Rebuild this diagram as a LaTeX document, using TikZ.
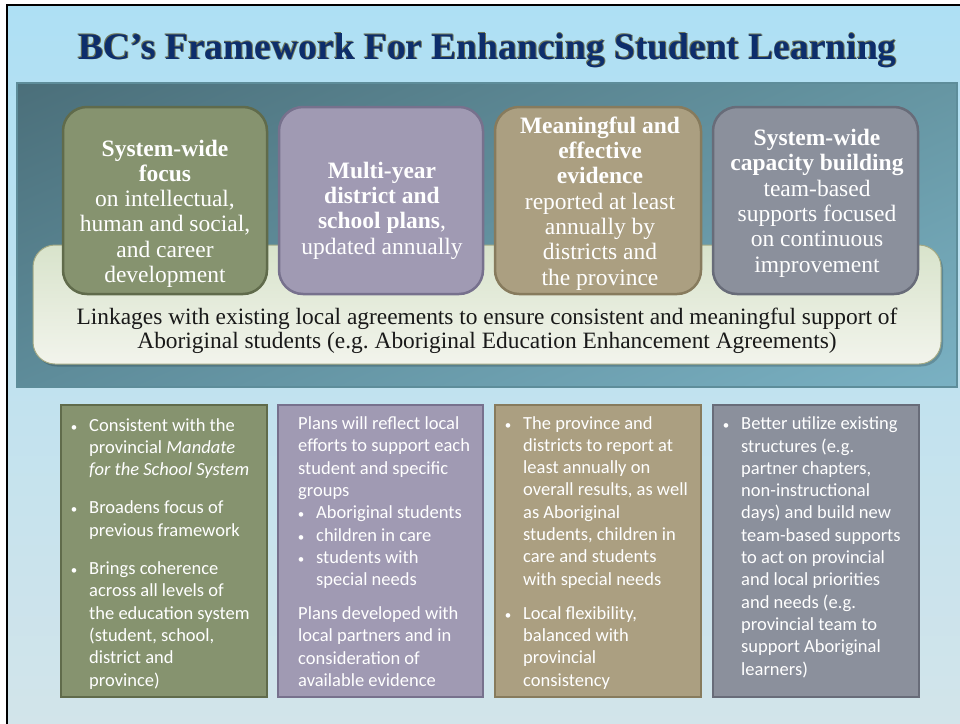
\documentclass[tikz,border=0pt]{standalone}
\usepackage{fontspec}
\usepackage{graphicx}
\usetikzlibrary{shadings}
\setmainfont{Liberation Serif}
\newfontfamily\carl{Carlito}
\frenchspacing
\definecolor{bgtop}{HTML}{AEE0F4}
\definecolor{bgbot}{HTML}{D2E4EA}
\definecolor{tealUL}{HTML}{4B6F7A}
\definecolor{tealUR}{HTML}{6696A3}
\definecolor{tealLL}{HTML}{5E8C9A}
\definecolor{tealLR}{HTML}{7AB1C3}
\definecolor{tealline}{HTML}{5E8D9A}
\definecolor{creamtop}{HTML}{D8E3CB}
\definecolor{creambot}{HTML}{F2F4EC}
\definecolor{creamline}{HTML}{A3A984}
\definecolor{gfill}{HTML}{86936F}
\definecolor{gline}{HTML}{606B4B}
\definecolor{pfill}{HTML}{A09AB3}
\definecolor{pline}{HTML}{77718D}
\definecolor{tfill}{HTML}{AB9F81}
\definecolor{tline}{HTML}{877B5D}
\definecolor{yfill}{HTML}{8B909C}
\definecolor{yline}{HTML}{686C79}
\definecolor{navy}{HTML}{0D2E6C}
\definecolor{olive}{HTML}{6F7658}
\newcommand\mybul{\llap{\makebox[18.3pt][l]{\scalebox{0.7}{•}}}}
\begin{document}
\begin{tikzpicture}[x=1pt,y=-1pt,
  panel/.style={inner sep=0pt, outer sep=0pt},
  topbox/.style={panel, rounded corners=24pt, line width=2.5pt, minimum height=187pt},
  botbox/.style={panel, line width=2pt, minimum height=292pt},
  toptext/.style={inner sep=0pt, text=white, align=center, anchor=base, font=\fontsize{23.5}{25.3}\selectfont},
  bottext/.style={inner sep=0pt, text=white, align=left, anchor=base west, font=\carl\fontsize{18.5}{22.3}\selectfont},
  titletext/.style={inner sep=0pt, anchor=base, font=\fontsize{37.5}{40}\selectfont\bfseries}
]
\useasboundingbox (0,0) rectangle (960,723);
\fill[white] (0,0) rectangle (960,723);
% slide background
\node[panel, shade, top color=bgtop, bottom color=bgbot, minimum width=955pt, minimum height=720pt] (slide) at (484.5,365) {};
\draw[black, line width=2pt] (slide.south west) -- (slide.north west) -- (slide.north east);
% title
\node[titletext, text=olive] (tsa) at (488.3,59.8) {BC’s Framework For Enhancing Student Learning};
\node[titletext, text=olive] (tsb) at (486.9,58.4) {BC’s Framework For Enhancing Student Learning};
\node[titletext, text=navy] (title) at (487.5,59) {BC’s Framework For Enhancing Student Learning};
% teal panel
\node[panel, minimum width=940pt, minimum height=304pt] (teal) at (487,235) {};
\shade[upper left=tealUL, upper right=tealUR, lower left=tealLL, lower right=tealLR] (teal.south west) rectangle (teal.north east);
\draw[tealline, line width=1.5pt] (teal.south west) rectangle (teal.north east);
% cream panel
\node[panel, rounded corners=22pt, fill=black, fill opacity=0.18, minimum width=908pt, minimum height=119pt] (creamsh) at (489,307) {};
\node[panel, rounded corners=22pt, shade, top color=creamtop, bottom color=creambot, draw=creamline, line width=1pt, minimum width=908pt, minimum height=119pt] (cream) at (487,304.5) {};
\node[inner sep=0pt, align=center, anchor=base, font=\fontsize{23.4}{24.5}\selectfont, text=black!90] (link) at (487,348.5) {Linkages with existing local agreements to ensure consistent and meaningful support of\\Aboriginal students (e.g. Aboriginal Education Enhancement Agreements)};
% top boxes
\node[topbox, fill=gfill, draw=gline, minimum width=204pt] (tb1) at (165,200.5) {};
\node[topbox, fill=pfill, draw=pline, minimum width=204pt] (tb2) at (381,200.5) {};
\node[topbox, fill=tfill, draw=tline, minimum width=206pt] (tb3) at (598,200.5) {};
\node[topbox, fill=yfill, draw=yline, minimum width=205pt] (tb4) at (815.5,200.5) {};
\node[toptext] (tt1) at (165,282.5) {\textbf{System-wide}\\\textbf{focus}\\on intellectual,\\human and social,\\and career\\development};
\node[toptext] (tt2) at (382,254) {\textbf{Multi-year}\\\textbf{district and}\\\textbf{school plans},\\updated annually};
\node[toptext] (tt3) at (600,285) {\textbf{Meaningful and}\\\textbf{effective}\\\textbf{evidence}\\reported at least\\annually by\\districts and\\the province};
\node[toptext] (tt4) at (817,272) {\textbf{System-wide}\\\textbf{capacity building}\\team-based\\supports focused\\on continuous\\improvement};
% bottom boxes
\node[botbox, fill=gfill, draw=gline, minimum width=206pt] (bb1) at (164,551) {};
\node[botbox, fill=pfill, draw=pline, minimum width=205pt] (bb2) at (380.5,551) {};
\node[botbox, fill=tfill, draw=tline, minimum width=206pt] (bb3) at (598,551) {};
\node[botbox, fill=yfill, draw=yline, minimum width=206pt] (bb4) at (816,551) {};
\node[bottext] (bt1) at (89,686) {\mybul Consistent with the\\provincial \textit{Mandate}\\\textit{for the School System}\\[16pt]\mybul Broadens focus of\\previous framework\\[16pt]\mybul Brings coherence\\across all levels of\\the education system\\(student, school,\\district and\\province)};
\node[bottext] (bt2) at (298,686.5) {Plans will reflect local\\efforts to support each\\student and specific\\groups\\\hspace*{18pt}\mybul Aboriginal students\\\hspace*{18pt}\mybul children in care\\\hspace*{18pt}\mybul students with\\\hspace*{18pt}special needs\\[11.7pt]Plans developed with\\local partners and in\\consideration of\\available evidence};
\node[bottext] (bt3) at (523,686) {\mybul The province and\\districts to report at\\least annually on\\overall results, as well\\as Aboriginal\\students, children in\\care and students\\with special needs\\[11.7pt]\mybul Local flexibility,\\balanced with\\provincial\\consistency};
\node[bottext] (bt4) at (741,675) {\mybul Better utilize existing\\structures (e.g.\\partner chapters,\\non-instructional\\days) and build new\\team-based supports\\to act on provincial\\and local priorities\\and needs (e.g.\\provincial team to\\support Aboriginal\\learners)};
\end{tikzpicture}
\end{document}
